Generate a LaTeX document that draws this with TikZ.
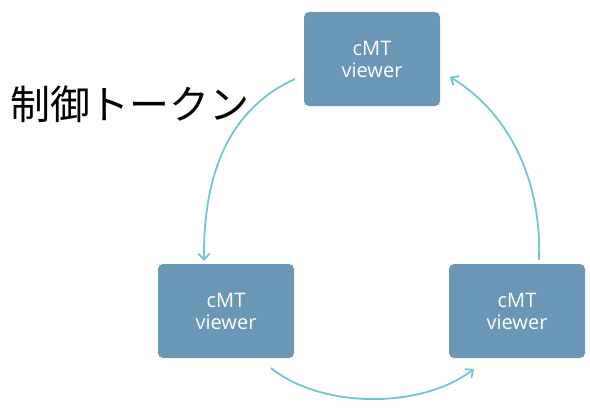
\documentclass[tikz,border=0pt]{standalone}
\usepackage{fontspec}
\setmainfont{Open Sans}
\newfontfamily\cjk{Noto Sans CJK JP}
\usetikzlibrary{arrows.meta}
\definecolor{boxblue}{HTML}{6B97B6}
\definecolor{arrowteal}{HTML}{72C5D3}
\tikzset{
  viewerbox/.style={fill=boxblue, rounded corners=5pt, minimum width=136pt, minimum height=94pt, inner sep=0pt,
    text=white, align=center, font=\fontsize{20}{22}\selectfont},
  flowarrow/.style={draw=arrowteal, line width=1.8pt, -{Straight Barb[length=6pt,width=11pt,line width=1.8pt]}}
}
\begin{document}
\begin{tikzpicture}[x=1pt,y=-1pt]
\useasboundingbox (0,0) rectangle (590,408);
\node[viewerbox] (top) at (372,59) {cMT\\viewer};
\node[viewerbox] (left) at (226,311) {cMT\\viewer};
\node[viewerbox] (right) at (517,311) {cMT\\viewer};
\node[font=\cjk\fontsize{40}{42}\selectfont, anchor=center, inner sep=0pt] (label) at (130,104) {制御トークン};
\coordinate (s1) at (295,79);
\coordinate (e1) at (204,261);
\coordinate (s2) at (271,368);
\coordinate (e2) at (474,369);
\coordinate (s3) at (539,260);
\coordinate (e3) at (450,77);
\draw[flowarrow] (s1) .. controls (235,106) and (203,165) .. (e1);
\draw[flowarrow] (s2) .. controls (320,408) and (420,410) .. (e2);
\draw[flowarrow] (s3) .. controls (542,175) and (505,110) .. (e3);
\end{tikzpicture}
\end{document}
